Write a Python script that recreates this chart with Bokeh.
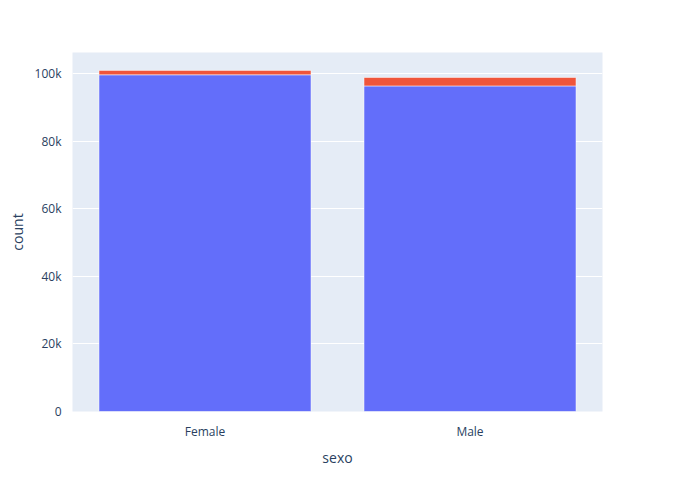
from bokeh.plotting import figure
from bokeh.models import ColumnDataSource, Legend, LegendItem, FixedTicker
from bokeh.embed import file_html
from bokeh.resources import INLINE

# Données
sexo = ["Female", "Male"]
cancelou_1 = [99700, 96400]
cancelou_0 = [1300, 2500]

source = ColumnDataSource(data={"sexo": sexo, "1.0": cancelou_1, "0.0": cancelou_0})

p = figure(x_range=sexo, y_range=(0, 106300), width=684, height=484,
           output_backend="svg", toolbar_location=None,
           min_border_left=72, min_border_top=52, min_border_bottom=73, min_border_right=82,
           x_axis_label="sexo", y_axis_label="count")
p.x_range.range_padding = 0

r = p.vbar_stack(["1.0", "0.0"], x="sexo", width=0.8, source=source,
                 color=["#636EFA", "#EF553B"], line_color="white", line_width=0.5)

p.background_fill_color = "#E5ECF6"
p.border_fill_color = "white"
p.outline_line_color = None
p.xgrid.grid_line_color = None
p.ygrid.grid_line_color = "white"
p.ygrid.grid_line_width = 1
p.yaxis.ticker = FixedTicker(ticks=[0, 20000, 40000, 60000, 80000, 100000])
p.yaxis.major_label_overrides = {0: "0", 20000: "20k", 40000: "40k", 60000: "60k",
                                 80000: "80k", 100000: "100k"}
for ax in [p.xaxis, p.yaxis]:
    ax.axis_line_color = None
    ax.major_tick_line_color = None
    ax.minor_tick_line_color = None
    ax.major_label_text_color = "#2a3f5f"
    ax.major_label_text_font = "Open Sans"
    ax.major_label_text_font_size = "12px"
    ax.axis_label_text_color = "#2a3f5f"
    ax.axis_label_text_font = "Open Sans"
    ax.axis_label_text_font_size = "14px"
    ax.axis_label_text_font_style = "normal"

legend = Legend(items=[LegendItem(label="1.0", renderers=[r[0]]),
                       LegendItem(label="0.0", renderers=[r[1]])],
                title="cancelou", location=(536, 290), border_line_color=None,
                background_fill_alpha=0,
                label_text_font="Open Sans", label_text_font_size="12px",
                label_text_color="#2a3f5f", title_text_font="Open Sans",
                title_text_font_size="14px", title_text_color="#2a3f5f",
                title_text_font_style="normal", glyph_width=14, glyph_height=14,
                spacing=2, padding=4, margin=0, label_standoff=14)
p.add_layout(legend)

open("out.html", "w").write(file_html(p, INLINE))
